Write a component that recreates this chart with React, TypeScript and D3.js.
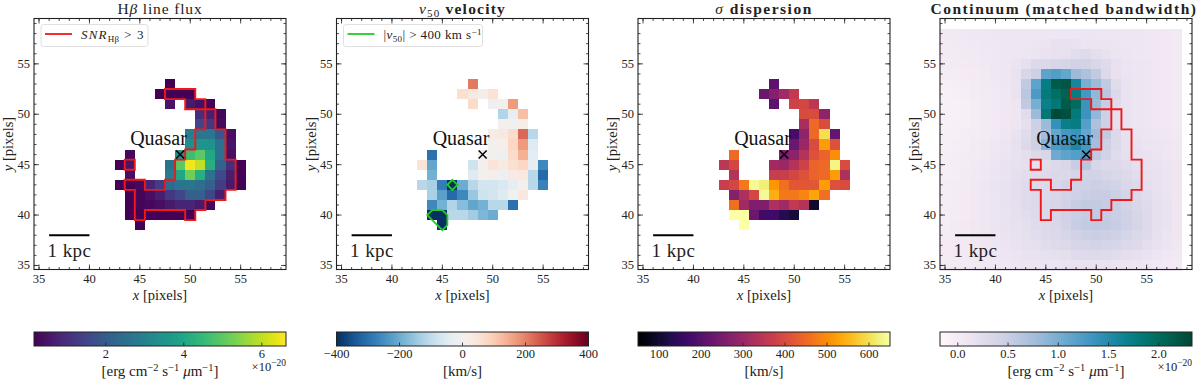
import React from 'react';
import * as d3 from 'd3';

const _ = null;

// columns of the emission line maps
const lineX = [43, 44, 45, 46, 47, 48, 49, 50, 51, 52, 53, 54, 55];
const lineY = [53, 52, 51, 50, 49, 48, 47, 46, 45, 44, 43, 42, 41, 40, 39];

const fluxRows = [
  [_, _, _, _, _, 0.15, _, _, _, _, _, _, _],
  [_, _, _, _, 0.15, 0.2, 0.2, 0.2, _, _, _, _, _],
  [_, _, _, _, _, 0.5, _, 0.6, 0.4, 0.2, _, _, _],
  [_, _, _, _, _, _, _, _, 1.0, 0.7, 0.25, _, _],
  [_, _, _, _, _, _, _, _, 1.5, 1.2, 0.35, _, _],
  [_, _, _, _, _, _, _, 2.9, 2.7, 2.7, 1.9, 0.4, _],
  [_, _, _, _, _, _, _, 3.3, 3.5, 3.4, 2.6, 0.5, _],
  [_, 0.3, _, _, _, _, 3.4, 4.6, 5.0, 4.0, 2.6, 0.4, _],
  [0.2, 0.5, _, _, _, 2.6, 5.0, 6.5, 6.0, 4.2, 2.2, 1.0, 0.2],
  [_, 0.4, _, _, _, 2.8, 4.0, 5.2, 4.2, 2.6, 1.6, 0.7, 0.2],
  [0.2, 0.2, 0.3, 0.8, 1.3, 2.4, 2.7, 2.7, 2.5, 2.1, 1.3, 0.6, 0.2],
  [_, 0.2, 0.25, 0.4, 0.7, 1.2, 1.5, 2.1, 2.1, 1.5, 0.7, _, _],
  [_, 0.15, 0.25, 0.3, 0.4, 0.6, 0.8, 0.8, 0.6, 0.3, _, _, _],
  [_, 0.15, 0.15, 0.2, 0.2, 0.2, 0.2, 0.2, _, _, _, _, _],
  [_, _, 0.2, _, _, _, _, _, _, _, _, _, _],
];

const velocityRows = [
  [_, _, _, _, _, 210, _, _, _, _, _, _, _],
  [_, _, _, _, 60, 35, 10, 55, _, _, _, _, _],
  [_, _, _, _, _, 70, _, -15, 5, 170, _, _, _],
  [_, _, _, _, _, _, _, _, -120, -30, 120, _, _],
  [_, _, _, _, _, _, _, _, 5, -5, 20, _, _],
  [_, _, _, _, _, _, _, 25, 35, 70, 230, -110, _],
  [_, _, _, _, _, _, _, 5, 15, 80, 170, -50, _],
  [_, -300, _, _, _, _, 0, -5, -15, 70, 140, -40, _],
  [50, -210, _, _, _, -80, 5, 50, 30, 60, 80, -30, -260],
  [_, -190, _, _, _, -50, 5, 10, -15, 30, 40, -110, -310],
  [-110, -130, -280, -410, -200, -110, -70, -70, -60, -30, 0, -110, -270],
  [_, -130, -220, -310, -260, -150, -80, -70, -50, -10, 40, _, _],
  [_, -260, -190, -120, -170, -210, -190, -110, -110, -300, _, _, _],
  [_, -420, -420, -110, -110, -140, -180, -200, _, _, _, _, _],
  [_, _, -420, _, _, _, _, _, _, _, _, _, _],
];

const sigmaRows = [
  [_, _, _, _, _, 210, _, _, _, _, _, _, _],
  [_, _, _, _, 230, 270, 310, 360, _, _, _, _, _],
  [_, _, _, _, _, 210, _, 380, 390, 350, _, _, _],
  [_, _, _, _, _, _, _, _, 400, 400, 280, _, _],
  [_, _, _, _, _, _, _, _, 320, 450, 400, _, _],
  [_, _, _, _, _, _, _, 180, 280, 450, 600, 220, _],
  [_, _, _, _, _, _, _, 230, 300, 400, 520, 410, _],
  [_, 450, _, _, _, _, 260, 280, 340, 410, 440, 500, _],
  [350, 390, _, _, _, 310, 300, 340, 380, 440, 450, 630, 400],
  [_, 340, _, _, _, 370, 370, 390, 410, 440, 450, 520, 330],
  [370, 390, 470, 640, 620, 510, 460, 420, 420, 420, 520, 410, 400],
  [_, 270, 330, 390, 640, 540, 470, 470, 490, 530, 460, _, _],
  [_, 460, 310, 260, 260, 330, 310, 360, 340, 100, _, _, _],
  [_, 650, 650, 230, 170, 170, 130, 110, _, _, _, _, _],
  [_, _, 650, _, _, _, _, _, _, _, _, _, _],
];

// continuum cutout, x 35..58, y 58..35
const contX = d3.range(35, 59);
const contY = d3.range(58, 34, -1);
const contRows = [
  [.03, .04, .05, .06, .07, .08, .08, .08, .08, .08, .08, .09, .09, .10, .10, .09, .09, .08, .08, .08, .07, .06, .05, .04],
  [.02, .03, .04, .05, .06, .07, .08, .09, .09, .10, .12, .16, .16, .14, .12, .12, .12, .10, .09, .08, .07, .06, .05, .04],
  [.01, .02, .03, .04, .05, .06, .08, .09, .10, .12, .14, .16, .18, .24, .26, .22, .16, .12, .10, .09, .07, .06, .05, .04],
  [.00, .01, .02, .03, .05, .07, .09, .11, .20, .30, .32, .36, .38, .42, .40, .34, .26, .16, .12, .10, .08, .06, .05, .04],
  [-.02, -.01, .00, .02, .04, .06, .09, .15, .35, .45, 1.15, 1.22, 1.10, .80, .70, .55, .30, .16, .12, .10, .08, .06, .05, .04],
  [-.04, -.03, -.01, .01, .03, .05, .08, .15, .55, 1.15, 1.75, 2.15, 2.2, 1.6, 1.0, .80, .55, .25, .14, .10, .08, .06, .05, .04],
  [-.06, -.05, -.03, .00, .02, .04, .07, .14, .60, 1.25, 1.80, 1.95, 2.1, 1.75, 1.30, .85, .60, .30, .15, .10, .08, .06, .05, .04],
  [-.07, -.06, -.04, -.01, .01, .03, .06, .10, .55, 1.00, 1.70, 1.85, 2.15, 2.00, 1.35, .80, .50, .25, .15, .10, .08, .06, .05, .04],
  [-.07, -.06, -.05, -.02, .01, .03, .06, .09, .25, .80, 1.85, 2.30, 2.25, 1.80, 1.35, .85, .45, .22, .14, .10, .08, .06, .05, .04],
  [-.07, -.05, -.04, -.01, .01, .03, .06, .10, .20, .45, .80, 1.40, 1.70, 1.75, 1.20, .70, .45, .20, .14, .10, .08, .06, .05, .04],
  [-.05, -.04, -.02, .00, .02, .04, .08, .15, .25, .45, .75, 1.10, 1.30, 1.35, 1.10, .80, .55, .30, .16, .12, .10, .08, .06, .05],
  [-.04, -.03, -.01, .01, .03, .06, .10, .18, .30, .45, .90, 1.25, 1.35, 1.55, 1.30, .75, .45, .30, .18, .14, .12, .10, .08, .06],
  [-.03, -.02, .00, .02, .04, .08, .12, .16, .22, .30, .35, 1.05, 1.15, 1.20, 1.30, .55, .40, .25, .20, .16, .14, .12, .09, .07],
  [-.03, -.02, .00, .03, .06, .10, .14, .18, .20, .20, .25, .30, .35, .50, .60, .35, .30, .30, .25, .20, .16, .14, .11, .08],
  [-.03, -.01, .01, .04, .07, .12, .15, .20, .24, .26, .28, .32, .32, .38, .40, .40, .36, .34, .30, .24, .20, .16, .12, .08],
  [-.02, .00, .02, .05, .08, .13, .17, .22, .26, .28, .30, .34, .40, .42, .44, .46, .44, .40, .34, .28, .22, .16, .12, .08],
  [-.02, .00, .02, .05, .08, .12, .17, .22, .26, .30, .32, .34, .40, .44, .48, .50, .50, .46, .38, .30, .24, .18, .13, .08],
  [-.02, .00, .02, .05, .08, .12, .16, .20, .26, .30, .34, .36, .42, .50, .54, .54, .52, .48, .40, .34, .26, .20, .14, .08],
  [-.02, .00, .02, .05, .08, .12, .15, .20, .24, .28, .32, .36, .42, .48, .52, .54, .52, .48, .44, .36, .28, .20, .14, .08],
  [-.01, .01, .03, .06, .08, .11, .14, .18, .22, .26, .30, .34, .40, .50, .54, .56, .54, .50, .44, .38, .28, .20, .14, .08],
  [.00, .02, .04, .06, .08, .10, .13, .16, .20, .24, .28, .32, .36, .42, .46, .48, .46, .44, .38, .32, .26, .18, .12, .08],
  [.00, .02, .04, .06, .08, .10, .12, .14, .18, .20, .24, .28, .30, .36, .38, .40, .38, .36, .32, .28, .22, .16, .12, .07],
  [.00, .02, .03, .05, .07, .09, .10, .12, .14, .16, .18, .20, .22, .26, .28, .28, .26, .24, .22, .18, .14, .10, .07, .05],
  [.00, .01, .02, .03, .05, .06, .07, .08, .10, .10, .12, .12, .14, .14, .14, .14, .14, .12, .10, .08, .07, .05, .03, .02],
];

// pixels with SNR above 3, listed as [y, x values]
const snrPixels: [number, number[]][] = [
  [52, [48, 49, 50]],
  [51, [50, 51]],
  [50, [52]],
  [49, [52]],
  [48, [51, 52, 53]],
  [47, [51, 52, 53]],
  [46, [50, 51, 52, 53]],
  [45, [44, 49, 50, 51, 52, 53, 54]],
  [44, [49, 50, 51, 52, 53, 54]],
  [43, [44, 45, 48, 49, 50, 51, 52, 53, 54]],
  [42, [45, 46, 47, 48, 49, 50, 51, 52, 53]],
  [41, [45, 46, 47, 48, 49, 50, 51]],
  [40, [45, 50]],
];

const majorTicks = [35, 40, 45, 50, 55];
const minorTicks = d3.range(35, 60);
const quasar = [49, 46];

const fluxTicks = [2, 4, 6];
const velocityTicks = [-400, -200, 0, 200, 400];
const sigmaTicks = [100, 200, 300, 400, 500, 600];
const contTicks = [0, 0.5, 1, 1.5, 2];

const FONT = '"Liberation Serif", "DejaVu Serif", serif';
const INK = '#222';
const RED = '#f01818';
const GREEN = '#22cc22';
const frameLeft = [34, 336.5, 638, 940];
const titleSpacing = [0.85, 1.2, 1.5, 1.55];
const frameW = 252;
const frameTop = 18.5;
const frameH = 251;
const barTop = 332;
const barH = 14;

function edgePath(pixels: [number, number[]][]) {
  const has = (x: number, y: number) => pixels.some(p => p[0] === y && p[1].includes(x));
  return (sx: d3.ScaleLinear<number, number>, sy: d3.ScaleLinear<number, number>) => {
    let d = '';
    pixels.forEach(([y, xs]) => {
      xs.forEach(x => {
        const l = sx(x - 0.5), r = sx(x + 0.5), t = sy(y + 0.5), b = sy(y - 0.5);
        if (!has(x, y + 1)) d += `M${l},${t}L${r},${t}`;
        if (!has(x, y - 1)) d += `M${l},${b}L${r},${b}`;
        if (!has(x - 1, y)) d += `M${l},${t}L${l},${b}`;
        if (!has(x + 1, y)) d += `M${r},${t}L${r},${b}`;
      });
    });
    return d;
  };
}

function Cells({ xs, ys, rows, color, sx, sy }: any) {
  const out: any[] = [];
  rows.forEach((row: (number | null)[], j: number) => {
    row.forEach((v, i) => {
      if (v === null) return;
      const x0 = sx(xs[i] - 0.5);
      const y0 = sy(ys[j] + 0.5);
      out.push(
        <rect
          key={`${i},${j}`}
          x={x0}
          y={y0}
          width={sx(xs[i] + 0.5) - x0}
          height={sy(ys[j] - 0.5) - y0}
          fill={color(v)}
          shapeRendering="crispEdges"
        />
      );
    });
  });
  return <g>{out}</g>;
}

function UnitLabel({ x, y }: { x: number; y: number }) {
  return (
    <text x={x} y={y} textAnchor="middle" fontSize={15} fill={INK}>
      [erg cm<tspan dy={-5} fontSize={10.5}>−2</tspan>
      <tspan dy={5}> s</tspan><tspan dy={-5} fontSize={10.5}>−1</tspan>
      <tspan dy={5} fontStyle="italic"> μ</tspan>m<tspan dy={-5} fontSize={10.5}>−1</tspan>
      <tspan dy={5}>]</tspan>
    </text>
  );
}

function Panel({ index, title, xs, ys, rows, domain, interp, ticks, tickFmt, unit, scaleNote, legend, overlay }: any) {
  const left = frameLeft[index];
  const sx = d3.scaleLinear().domain([34.5, 59.5]).range([left, left + frameW]);
  const sy = d3.scaleLinear().domain([34.6, 59.5]).range([frameTop + frameH, frameTop]);
  const norm = d3.scaleLinear().domain(domain).range([0, 1]).clamp(true);
  const color = (v: number) => interp(norm(v));
  const cb = d3.scaleLinear().domain(domain).range([left, left + frameW]);
  const gradId = `cb${index}`;
  const stops = d3.range(0, 1.0001, 1 / 40);
  const qx = sx(quasar[0]);
  const qy = sy(quasar[1]);
  const tick = (t: number, len: number) => (
    <g key={t}>
      <line x1={sx(t)} x2={sx(t)} y1={frameTop + frameH} y2={frameTop + frameH - len} />
      <line x1={sx(t)} x2={sx(t)} y1={frameTop} y2={frameTop + len} />
      <line y1={sy(t)} y2={sy(t)} x1={left} x2={left + len} />
      <line y1={sy(t)} y2={sy(t)} x1={left + frameW} x2={left + frameW - len} />
    </g>
  );
  return (
    <g>
      <text x={left + frameW / 2 - (index === 3 ? 2 : 0)} y={14} textAnchor="middle" fontSize={15.5} letterSpacing={titleSpacing[index]} fontWeight={index === 0 ? 400 : 700} fill={INK}>
        {title}
      </text>
      <Cells xs={xs} ys={ys} rows={rows} color={color} sx={sx} sy={sy} />
      {overlay && overlay(sx, sy)}
      <line x1={sx(36)} x2={sx(40)} y1={sy(38)} y2={sy(38)} stroke="#000" strokeWidth={1.8} />
      <text x={sx(35.85)} y={sy(35.8)} fontSize={19} letterSpacing={0.4} fill={INK}>1 kpc</text>
      <text x={qx - 50} y={sy(47.0)} fontSize={20} fill="#111">Quasar</text>
      <path
        d={`M${qx - 4},${qy - 4}L${qx + 4},${qy + 4}M${qx - 4},${qy + 4}L${qx + 4},${qy - 4}`}
        stroke="#000"
        strokeWidth={1.5}
        fill="none"
      />
      <g stroke={INK} strokeWidth={0.8}>
        {minorTicks.map(t => tick(t, 2.5))}
        {majorTicks.map(t => tick(t + 0.0001, 5))}
      </g>
      <rect x={left} y={frameTop} width={frameW} height={frameH} fill="none" stroke={INK} strokeWidth={1.1} />
      {majorTicks.map(t => (
        <text key={t} x={sx(t)} y={frameTop + frameH + 13} textAnchor="middle" fontSize={12.5} fill={INK}>{t}</text>
      ))}
      {majorTicks.map(t => (
        <text key={t} x={left - 4} y={sy(t) + 4} textAnchor="end" fontSize={12.5} fill={INK}>{t}</text>
      ))}
      <text x={left + frameW / 2} y={frameTop + frameH + 30} textAnchor="middle" fontSize={14.5} fill={INK}>
        <tspan fontStyle="italic">x</tspan> [pixels]
      </text>
      <text
        transform={`translate(${left - 21},${frameTop + frameH / 2}) rotate(-90)`}
        textAnchor="middle"
        fontSize={14.5}
        fill={INK}
      >
        <tspan fontStyle="italic">y</tspan> [pixels]
      </text>
      {legend}

      <defs>
        <linearGradient id={gradId}>
          {stops.map(s => (
            <stop key={s} offset={s} stopColor={interp(s)} />
          ))}
        </linearGradient>
      </defs>
      <rect x={left} y={barTop} width={frameW} height={barH} fill={`url(#${gradId})`} stroke={INK} strokeWidth={1} />
      {ticks.map((t: number) => (
        <g key={t}>
          <line x1={cb(t)} x2={cb(t)} y1={barTop + barH} y2={barTop + barH - 3.5} stroke={INK} strokeWidth={0.8} />
          <text x={cb(t)} y={barTop + barH + 12} textAnchor="middle" fontSize={12.5} fill={INK}>{tickFmt(t)}</text>
        </g>
      ))}
      {unit === 'flux' ? (
        <UnitLabel x={left + frameW / 2} y={376} />
      ) : (
        <text x={left + frameW / 2} y={376} textAnchor="middle" fontSize={15} fill={INK}>[km/s]</text>
      )}
      {scaleNote && (
        <text x={left + frameW} y={371} textAnchor="end" fontSize={12.5} fill={INK}>
          ×10<tspan dy={-5} fontSize={9.5}>−20</tspan>
        </text>
      )}
    </g>
  );
}

function LegendBox({ left, width, stroke, children }: any) {
  return (
    <g>
      <rect x={left + 7} y={24.5} width={width} height={22} rx={2.5} fill="#fff" stroke="#d8d8d8" strokeWidth={0.8} />
      <line x1={left + 11} x2={left + 38} y1={34} y2={34} stroke={stroke} strokeWidth={1.8} />
      <text x={left + 47} y={39} fontSize={13} letterSpacing={0.4} fill={INK}>{children}</text>
    </g>
  );
}

const plainFmt = (t: number) => String(t).replace('-', '−');
const fixedFmt = (t: number) => t.toFixed(1);

export default function App() {
  const snrOutline = edgePath(snrPixels);
  const redOverlay = (sx: any, sy: any) => (
    <path d={snrOutline(sx, sy)} stroke={RED} strokeWidth={1.9} fill="none" strokeLinecap="square" />
  );
  // pixels beyond 400 km/s traced with a level set, so the outline cuts corners
  const greenOverlay = (sx: any, sy: any) => {
    const flat = velocityRows.flat().map(v => (v !== null && Math.abs(v) > 400 ? 1 : 0));
    const levels = d3.contours().size([lineX.length, lineY.length]).thresholds([0.5])(flat);
    const path = d3.geoPath(
      d3.geoTransform({
        point(px, py) {
          this.stream.point(sx(lineX[0] + px - 0.5), sy(lineY[0] - (py - 0.5)));
        },
      })
    );
    return <path d={path(levels[0] as any) || ''} stroke={GREEN} strokeWidth={1.8} fill="none" />;
  };
  return (
    <svg width={1200} height={380} style={{ position: 'absolute', left: 0, top: 0, background: '#fff' }} fontFamily={FONT}>
      <Panel
        index={0}
        title={<>H<tspan fontStyle="italic">β</tspan> line flux</>}
        xs={lineX}
        ys={lineY}
        rows={fluxRows}
        domain={[0.16, 6.62]}
        interp={d3.interpolateViridis}
        ticks={fluxTicks}
        tickFmt={plainFmt}
        unit="flux"
        scaleNote
        overlay={redOverlay}
        legend={
          <LegendBox left={frameLeft[0]} width={107} stroke={RED}>
            <tspan fontStyle="italic" letterSpacing={1.2}>SNR</tspan>
            <tspan dy={3} fontSize={9}>Hβ</tspan>
            <tspan dy={-3} letterSpacing={1.2}> &gt; 3</tspan>
          </LegendBox>
        }
      />
      <Panel
        index={1}
        title={<><tspan fontStyle="italic" fontWeight={400}>v</tspan><tspan dy={3} fontSize={11} fontWeight={400}>50</tspan><tspan dy={-3}> velocity</tspan></>}
        xs={lineX}
        ys={lineY}
        rows={velocityRows}
        domain={[-400, 400]}
        interp={(t: number) => d3.interpolateRdBu(1 - t)}
        ticks={velocityTicks}
        tickFmt={plainFmt}
        unit="kms"
        overlay={greenOverlay}
        legend={
          <LegendBox left={frameLeft[1]} width={139} stroke={GREEN}>
            |<tspan fontStyle="italic">v</tspan>
            <tspan dy={3} fontSize={9}>50</tspan>
            <tspan dy={-3}>| &gt; 400 km s</tspan>
            <tspan dy={-4} fontSize={9}>−1</tspan>
          </LegendBox>
        }
      />
      <Panel
        index={2}
        title={<><tspan fontStyle="italic" fontWeight={400}>σ</tspan> dispersion</>}
        xs={lineX}
        ys={lineY}
        rows={sigmaRows}
        domain={[50, 650]}
        interp={d3.interpolateInferno}
        ticks={sigmaTicks}
        tickFmt={plainFmt}
        unit="kms"
      />
      <Panel
        index={3}
        title="Continuum (matched bandwidth)"
        xs={contX}
        ys={contY}
        rows={contRows}
        domain={[-0.177, 2.33]}
        interp={d3.interpolatePuBuGn}
        ticks={contTicks}
        tickFmt={fixedFmt}
        unit="flux"
        scaleNote
        overlay={redOverlay}
      />
    </svg>
  );
}
